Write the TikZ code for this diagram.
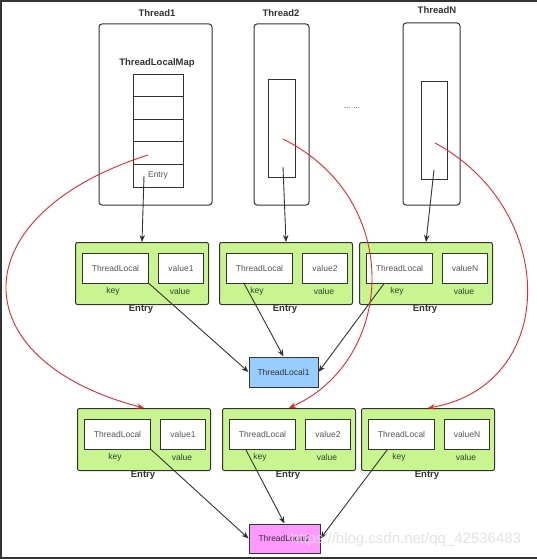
\documentclass[tikz,border=0pt]{standalone}
\usepackage{fontspec}
\setmainfont{Liberation Sans}
\usetikzlibrary{arrows.meta,calc}
\definecolor{dark}{HTML}{333333}
\definecolor{txtgray}{HTML}{555555}
\definecolor{entrygreen}{HTML}{C8F590}
\definecolor{tlblue}{HTML}{99CCFF}
\definecolor{tlpink}{HTML}{FF99FF}
\definecolor{redline}{HTML}{E8272A}
\tikzset{
  threadbox/.style={draw=dark, line width=1pt, rounded corners=3pt, fill=white, inner sep=0pt},
  mapcell/.style={draw=dark, line width=0.9pt, fill=white, minimum width=50pt, minimum height=22.6pt, inner sep=0pt, font=\fontsize{8.5}{9}\selectfont, text=txtgray},
  innerrect/.style={draw=dark, line width=1pt, fill=white, inner sep=0pt},
  entrybox/.style={draw=dark, line width=1pt, rounded corners=2pt, fill=entrygreen, inner sep=0pt, anchor=north west},
  inbox/.style={draw=dark, line width=1pt, fill=white, inner sep=0pt, anchor=north west, font=\fontsize{8.5}{9}\selectfont, text=txtgray},
  smalllbl/.style={font=\fontsize{8.5}{9}\selectfont, text=txtgray!80!green!60!black, inner sep=0pt},
  boldlbl/.style={font=\bfseries\fontsize{9.5}{10}\selectfont, text=dark, inner sep=0pt},
  tlbox/.style={draw=dark, line width=1pt, inner sep=0pt, font=\fontsize{8.5}{9}\selectfont, text=dark},
  blackarrow/.style={draw=dark, line width=0.9pt, -{Stealth[length=7pt,width=5.5pt]}},
  redarrow/.style={draw=redline, line width=0.9pt, -{Stealth[length=7pt,width=5.5pt]}},
}
\newcommand{\myentry}[4]{%
  \node[entrybox, minimum width=133pt, minimum height=62pt] (#1) at (#2,#3) {};
  \node[inbox, minimum width=66pt, minimum height=29.5pt] (#1-k) at ({#2+7},{#3+11}) {ThreadLocal};
  \node[inbox, minimum width=45pt, minimum height=29.5pt] (#1-v) at ({#2+83},{#3+11}) {#4};
  \node[smalllbl] (#1-kl) at ({#2+38},{#3+49}) {key};
  \node[smalllbl] (#1-vl) at ({#2+105},{#3+49}) {value};
  \node[boldlbl] (#1-el) at ({#2+66},{#3+67}) {Entry};
}
\begin{document}
\begin{tikzpicture}[x=1pt,y=-1pt]
\useasboundingbox (0,0) rectangle (537,559);
\fill[white] (0,0) rectangle (537,559);
% screenshot frame
\fill[dark] (0,0) rectangle (537,2.5);
\fill[dark] (0,0) rectangle (2,559);
\fill[dark] (0,556.5) rectangle (537,559);

% threads
\node[threadbox, minimum width=113pt, minimum height=181pt] (t1) at (155.5,114.5) {};
\node[boldlbl] (t1l) at (157,13) {Thread1};
\node[boldlbl] (mapl) at (157,63) {ThreadLocalMap};
\node[mapcell] (c1) at (158,85.3) {};
\node[mapcell] (c2) at (158,107.9) {};
\node[mapcell] (c3) at (158,130.5) {};
\node[mapcell] (c4) at (158,153.1) {};
\node[mapcell] (c5) at (158,175.7) {Entry};

\node[threadbox, minimum width=55pt, minimum height=181pt] (t2) at (281.5,114.5) {};
\node[boldlbl] (t2l) at (281,13) {Thread2};
\node[innerrect, minimum width=27pt, minimum height=97pt] (t2i) at (281.5,128.5) {};

\node[threadbox, minimum width=57pt, minimum height=182pt] (tn) at (431.5,114) {};
\node[boldlbl] (tnl) at (437,10) {ThreadN};
\node[innerrect, minimum width=26pt, minimum height=97pt] (tni) at (434,130.5) {};

\node[font=\fontsize{8}{9}\selectfont, text=dark, inner sep=0pt] (dots) at (352,108) {... ...};

% entries row 1
\myentry{ea1}{75}{242}{value1}
\myentry{ea2}{219}{242}{value2}
\myentry{ean}{359}{242}{valueN}
% entries row 2
\myentry{eb1}{77}{408}{value1}
\myentry{eb2}{222}{408}{value2}
\myentry{ebn}{361}{408}{valueN}

% ThreadLocal boxes
\node[tlbox, fill=tlblue, minimum width=69pt, minimum height=30pt] (tl1) at (283.5,372) {ThreadLocal1};
\node[tlbox, fill=tlpink, minimum width=71pt, minimum height=29pt] (tl2) at (284.5,538.5) {ThreadLocal2};

% start points
\coordinate (s1) at (144,176);
\coordinate (s2) at (283,167);
\coordinate (sn) at (434,170);
\coordinate (r1) at (148,155);
\coordinate (r2) at (283,139);
\coordinate (rn) at (435,143);

% black arrows thread -> entry
\draw[blackarrow] (s1) -- (ea1.north);
\draw[blackarrow] (s2) -- (ea2.north);
\draw[blackarrow] (sn) -- (ean.north);
% key arrows
\draw[blackarrow] (ea1-k.south east) -- (tl1.west);
\draw[blackarrow] ($(ea2-k.south west)!0.27!(ea2-k.south east)$) -- (tl1.north);
\draw[blackarrow] ($(ean-k.south west)!0.27!(ean-k.south east)$) -- (tl1.east);
\draw[blackarrow] (eb1-k.south east) -- (tl2.west);
\draw[blackarrow] ($(eb2-k.south west)!0.25!(eb2-k.south east)$) -- (tl2.north);
\draw[blackarrow] ($(ebn-k.south west)!0.29!(ebn-k.south east)$) -- (tl2.east);

% red curves
\draw[redarrow] (r1) .. controls (-40,215) and (-40,360) .. (eb1.north);
\draw[redarrow] (r2) .. controls (405,200) and (395,360) .. (eb2.north);
\draw[redarrow] (rn) .. controls (559,210) and (559,385) .. (ebn.north);

% watermark
\node[font=\fontsize{15}{16}\selectfont, text=gray!25, opacity=0.85, inner sep=0pt] (wm) at (406,540) {https://blog.csdn.net/qq\_42536483};
\end{tikzpicture}
\end{document}
